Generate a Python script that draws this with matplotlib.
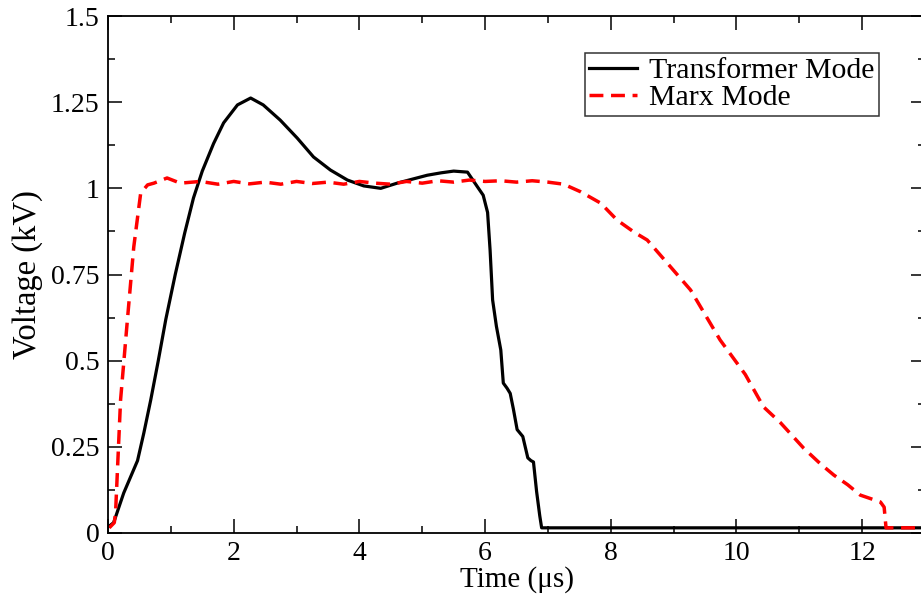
import numpy as np
import matplotlib.pyplot as plt
from matplotlib.ticker import MultipleLocator

plt.rcParams['font.family'] = ['Liberation Serif', 'DejaVu Serif']

# transformer mode trace
t_time = [0.02, 0.09, 0.25, 0.47, 0.57, 0.68, 0.8, 0.92, 1.07, 1.22, 1.36, 1.5, 1.68, 1.84, 2.06,
          2.27, 2.47, 2.74, 3.01, 3.27, 3.54, 3.81, 4.07, 4.34, 4.6, 5.08, 5.3, 5.5, 5.72, 5.88, 5.97,
          6.04, 6.08, 6.12, 6.18, 6.25, 6.29, 6.35, 6.4, 6.45, 6.51, 6.6, 6.68, 6.73, 6.77,
          6.82, 6.87, 6.9, 13.0]
t_volt = [0.02, 0.03, 0.116, 0.21, 0.29, 0.386, 0.5, 0.62, 0.75, 0.87, 0.972, 1.05, 1.13, 1.19, 1.242,
          1.262, 1.242, 1.198, 1.146, 1.091, 1.053, 1.024, 1.007, 1.0, 1.015, 1.038, 1.045, 1.05, 1.047, 1.004, 0.98,
          0.93, 0.82, 0.676, 0.6, 0.531, 0.435, 0.42, 0.405, 0.36, 0.30, 0.28, 0.218, 0.21, 0.206,
          0.12, 0.05, 0.015, 0.015]

# marx mode trace
m_time = [0.02, 0.1, 0.12, 0.2, 0.3, 0.41, 0.52, 0.63, 0.73, 0.94, 1.15, 1.47, 1.75, 2.0, 2.25,
          2.5, 2.75, 3.0, 3.25, 3.5, 3.75, 4.0, 4.25, 4.5, 4.75, 5.0, 5.25, 5.5, 5.75, 6.0,
          6.25, 6.5, 6.75, 7.0, 7.25, 7.52, 7.84, 8.1, 8.37, 8.58, 8.79, 9.27, 9.74, 10.14,
          10.43, 10.7, 10.9, 11.07, 11.34, 11.55, 11.77, 11.97, 12.29, 12.35, 12.38, 12.42, 13.0]
m_volt = [0.015, 0.03, 0.058, 0.386, 0.6, 0.83, 0.986, 1.01, 1.015, 1.03, 1.015, 1.02, 1.012, 1.02, 1.013,
          1.018, 1.012, 1.02, 1.014, 1.018, 1.012, 1.02, 1.015, 1.012, 1.02, 1.015, 1.022, 1.018, 1.024, 1.02,
          1.022, 1.018, 1.022, 1.018, 1.012, 0.99, 0.957, 0.908, 0.873, 0.85, 0.806, 0.705, 0.56, 0.46,
          0.366, 0.32, 0.28, 0.246, 0.2, 0.168, 0.14, 0.11, 0.09, 0.075, 0.015, 0.015, 0.015]

fig = plt.figure(figsize=(9.21, 6.04), dpi=100)
ax = fig.add_axes([108 / 921, 1 - 533 / 604, (925 - 108) / 921, (533 - 16) / 604])

ax.plot(t_time, t_volt, color='black', lw=2.3, label='Transformer Mode')
ax.plot(m_time, m_volt, color='red', lw=2.5, dashes=(4, 2.2), label='Marx Mode')

ax.set_xlim(0, 13)
ax.set_ylim(0, 1.5)
ax.xaxis.set_major_locator(MultipleLocator(2))
ax.xaxis.set_minor_locator(MultipleLocator(1))
ax.yaxis.set_minor_locator(MultipleLocator(0.125))
ax.set_yticks([0, 0.25, 0.5, 0.75, 1, 1.25, 1.5])
ax.set_yticklabels(['0', '0.25', '0.5', '0.75', '1', '1.25', '1.5'])
ax.tick_params(which='both', direction='in', top=True, right=True, labelsize=20, width=1.1)
ax.tick_params(which='major', length=10, pad=6)
ax.tick_params(which='minor', length=5)
for s in ax.spines.values():
    s.set_linewidth(1.3)

ax.set_xlabel('Time (μs)', fontsize=21, labelpad=0)
ax.set_ylabel('Voltage (kV)', fontsize=23.5, labelpad=6)

leg = ax.legend(loc='upper left', bbox_to_anchor=(477 / 817, 1 - 37 / 517), fontsize=21.5,
                frameon=True, fancybox=False, borderpad=0.15, handlelength=1.6,
                handletextpad=0.4, labelspacing=0.0, borderaxespad=0)
leg.get_frame().set_edgecolor('black')
leg.get_frame().set_linewidth(1.1)

fig.savefig('out.png', dpi=100)
